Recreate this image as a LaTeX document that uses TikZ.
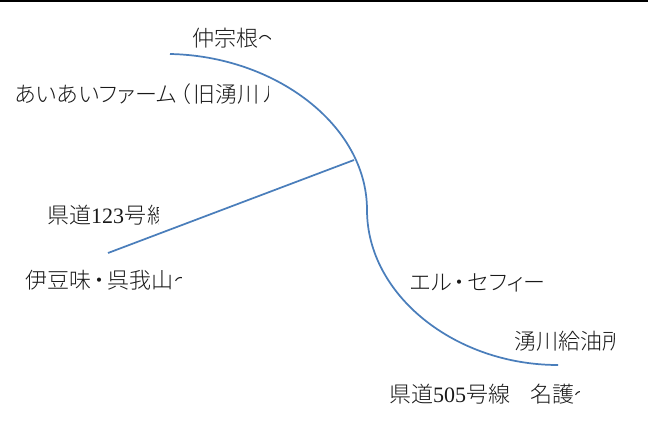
\documentclass[tikz,border=0pt]{standalone}
\usepackage{fontspec}
\setmainfont[UprightFont=* Light,RawFeature=+palt]{Noto Sans CJK JP}
\newfontfamily\latinfont{Liberation Serif}
\newcommand{\lat}[1]{{\latinfont #1}}
\newcommand{\gap}[1]{\hspace{#1pt}}
\tikzset{
  lbl/.style={anchor=base west,inner sep=0pt,outer sep=0pt,text=black!90,font=\fontsize{16.5pt}{16.5pt}\selectfont},
  route/.style={draw=routeblue,line width=1.3pt},
}
\definecolor{routeblue}{HTML}{4A7EBB}
\newcommand{\cliplabel}[5]{% name, x, y(base), clip right, text
  \begin{scope}
    \clip (#2-2,#3-30) rectangle (#4,#3+9);
    \node[lbl] (#1) at (#2,#3) {#5};
  \end{scope}}
\begin{document}
\begin{tikzpicture}[x=0.75pt,y=-0.75pt]
\useasboundingbox (0,0) rectangle (648,432);
\fill[black] (0,0) rectangle (648,2);
\cliplabel{a}{192}{46}{270}{仲宗根〜}
\cliplabel{b}{15}{102}{268}{あいあいファーム\gap{2}（\gap{2}旧湧川\gap{3}ルート）}
\cliplabel{c}{47}{223}{158}{県道\lat{123}号\gap{1}線}
\cliplabel{d}{25}{288}{181}{伊豆味\gap{2}・\gap{2}呉我山\gap{1}〜}
\cliplabel{e}{410}{290}{560}{エル\gap{2}・\gap{2}セフィー}
\cliplabel{f}{514}{349}{614}{湧川給油所}
\cliplabel{g}{389}{402}{579}{県道\lat{505}号線\hspace{15pt}名護〜}
\coordinate (s) at (170,54);
\coordinate (m) at (367,210);
\coordinate (t) at (558,365);
\coordinate (j) at (354,160);
\coordinate (w) at (108,253);
\draw[route] (s) .. controls (275,56) and (367,125) .. (m)
             .. controls (367,295) and (455,365) .. (t);
\draw[route] (w) -- (j);
\end{tikzpicture}
\end{document}
